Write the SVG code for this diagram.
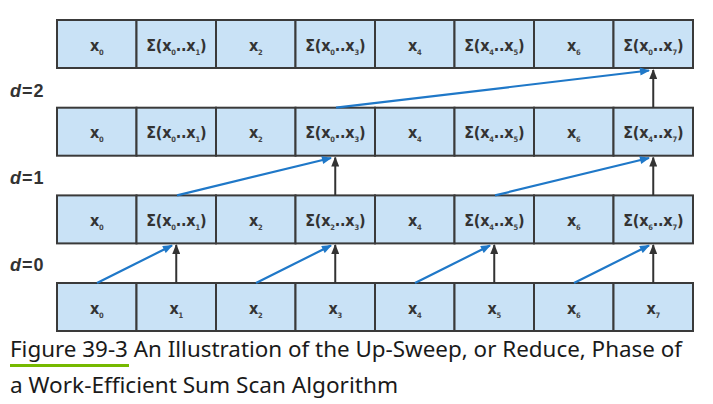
<svg xmlns="http://www.w3.org/2000/svg" width="713" height="404" viewBox="0 0 713 404">
<defs>
<style>
.cell{fill:#c9e2f6;stroke:#3a3a3a;stroke-width:2}
.t{font-family:"Liberation Sans Narrow","DejaVu Sans Condensed",sans-serif;font-weight:bold;font-size:16px;fill:#333;text-anchor:middle;letter-spacing:-0.2px}
.s{font-size:7.5px;fill:#444}
.d{font-family:"Liberation Sans",Arial,sans-serif;font-weight:bold;font-size:18px;fill:#333;letter-spacing:1px}
.cap{font-family:"Noto Sans","Open Sans",sans-serif;font-size:21px;fill:#1a1a1a}
.blue{stroke:#1f78c8;stroke-width:2.2;fill:none;marker-end:url(#hb)}
.blk{stroke:#333;stroke-width:2;fill:none;marker-end:url(#hk)}
</style>
<marker id="hb" viewBox="0 0 10 8" refX="9" refY="4" markerWidth="11" markerHeight="8" markerUnits="userSpaceOnUse" orient="auto"><path d="M0,0 L10,4 L0,8 z" fill="#1f78c8"/></marker>
<marker id="hk" viewBox="0 0 10 8" refX="9" refY="4" markerWidth="10" markerHeight="8" markerUnits="userSpaceOnUse" orient="auto"><path d="M0,0 L10,4 L0,8 z" fill="#333"/></marker>
</defs>
<rect width="713" height="404" fill="#fff"/>

<g id="row3">
<g id="r3c0"><rect class="cell" x="57" y="20" width="79.5" height="48"/><text class="t" x="96.75" y="50.5">x<tspan class="s" dy="4">0</tspan></text></g>
<g id="r3c1"><rect class="cell" x="136.5" y="20" width="79.5" height="48"/><text class="t" x="176.25" y="50.5">Σ(x<tspan class="s" dy="4">0</tspan><tspan dy="-4">..x</tspan><tspan class="s" dy="4">1</tspan><tspan dy="-4">)</tspan></text></g>
<g id="r3c2"><rect class="cell" x="216" y="20" width="79.5" height="48"/><text class="t" x="255.75" y="50.5">x<tspan class="s" dy="4">2</tspan></text></g>
<g id="r3c3"><rect class="cell" x="295.5" y="20" width="79.5" height="48"/><text class="t" x="335.25" y="50.5">Σ(x<tspan class="s" dy="4">0</tspan><tspan dy="-4">..x</tspan><tspan class="s" dy="4">3</tspan><tspan dy="-4">)</tspan></text></g>
<g id="r3c4"><rect class="cell" x="375" y="20" width="79.5" height="48"/><text class="t" x="414.75" y="50.5">x<tspan class="s" dy="4">4</tspan></text></g>
<g id="r3c5"><rect class="cell" x="454.5" y="20" width="79.5" height="48"/><text class="t" x="494.25" y="50.5">Σ(x<tspan class="s" dy="4">4</tspan><tspan dy="-4">..x</tspan><tspan class="s" dy="4">5</tspan><tspan dy="-4">)</tspan></text></g>
<g id="r3c6"><rect class="cell" x="534" y="20" width="79.5" height="48"/><text class="t" x="573.75" y="50.5">x<tspan class="s" dy="4">6</tspan></text></g>
<g id="r3c7"><rect class="cell" x="613.5" y="20" width="79.5" height="48"/><text class="t" x="653.25" y="50.5">Σ(x<tspan class="s" dy="4">0</tspan><tspan dy="-4">..x</tspan><tspan class="s" dy="4">7</tspan><tspan dy="-4">)</tspan></text></g>
</g>

<g id="row2">
<g id="r2c0"><rect class="cell" x="57" y="107.7" width="79.5" height="48"/><text class="t" x="96.75" y="138.2">x<tspan class="s" dy="4">0</tspan></text></g>
<g id="r2c1"><rect class="cell" x="136.5" y="107.7" width="79.5" height="48"/><text class="t" x="176.25" y="138.2">Σ(x<tspan class="s" dy="4">0</tspan><tspan dy="-4">..x</tspan><tspan class="s" dy="4">1</tspan><tspan dy="-4">)</tspan></text></g>
<g id="r2c2"><rect class="cell" x="216" y="107.7" width="79.5" height="48"/><text class="t" x="255.75" y="138.2">x<tspan class="s" dy="4">2</tspan></text></g>
<g id="r2c3"><rect class="cell" x="295.5" y="107.7" width="79.5" height="48"/><text class="t" x="335.25" y="138.2">Σ(x<tspan class="s" dy="4">0</tspan><tspan dy="-4">..x</tspan><tspan class="s" dy="4">3</tspan><tspan dy="-4">)</tspan></text></g>
<g id="r2c4"><rect class="cell" x="375" y="107.7" width="79.5" height="48"/><text class="t" x="414.75" y="138.2">x<tspan class="s" dy="4">4</tspan></text></g>
<g id="r2c5"><rect class="cell" x="454.5" y="107.7" width="79.5" height="48"/><text class="t" x="494.25" y="138.2">Σ(x<tspan class="s" dy="4">4</tspan><tspan dy="-4">..x</tspan><tspan class="s" dy="4">5</tspan><tspan dy="-4">)</tspan></text></g>
<g id="r2c6"><rect class="cell" x="534" y="107.7" width="79.5" height="48"/><text class="t" x="573.75" y="138.2">x<tspan class="s" dy="4">6</tspan></text></g>
<g id="r2c7"><rect class="cell" x="613.5" y="107.7" width="79.5" height="48"/><text class="t" x="653.25" y="138.2">Σ(x<tspan class="s" dy="4">4</tspan><tspan dy="-4">..x</tspan><tspan class="s" dy="4">7</tspan><tspan dy="-4">)</tspan></text></g>
</g>

<g id="row1">
<g id="r1c0"><rect class="cell" x="57" y="195.4" width="79.5" height="48"/><text class="t" x="96.75" y="225.9">x<tspan class="s" dy="4">0</tspan></text></g>
<g id="r1c1"><rect class="cell" x="136.5" y="195.4" width="79.5" height="48"/><text class="t" x="176.25" y="225.9">Σ(x<tspan class="s" dy="4">0</tspan><tspan dy="-4">..x</tspan><tspan class="s" dy="4">1</tspan><tspan dy="-4">)</tspan></text></g>
<g id="r1c2"><rect class="cell" x="216" y="195.4" width="79.5" height="48"/><text class="t" x="255.75" y="225.9">x<tspan class="s" dy="4">2</tspan></text></g>
<g id="r1c3"><rect class="cell" x="295.5" y="195.4" width="79.5" height="48"/><text class="t" x="335.25" y="225.9">Σ(x<tspan class="s" dy="4">2</tspan><tspan dy="-4">..x</tspan><tspan class="s" dy="4">3</tspan><tspan dy="-4">)</tspan></text></g>
<g id="r1c4"><rect class="cell" x="375" y="195.4" width="79.5" height="48"/><text class="t" x="414.75" y="225.9">x<tspan class="s" dy="4">4</tspan></text></g>
<g id="r1c5"><rect class="cell" x="454.5" y="195.4" width="79.5" height="48"/><text class="t" x="494.25" y="225.9">Σ(x<tspan class="s" dy="4">4</tspan><tspan dy="-4">..x</tspan><tspan class="s" dy="4">5</tspan><tspan dy="-4">)</tspan></text></g>
<g id="r1c6"><rect class="cell" x="534" y="195.4" width="79.5" height="48"/><text class="t" x="573.75" y="225.9">x<tspan class="s" dy="4">6</tspan></text></g>
<g id="r1c7"><rect class="cell" x="613.5" y="195.4" width="79.5" height="48"/><text class="t" x="653.25" y="225.9">Σ(x<tspan class="s" dy="4">6</tspan><tspan dy="-4">..x</tspan><tspan class="s" dy="4">7</tspan><tspan dy="-4">)</tspan></text></g>
</g>

<g id="row0">
<g id="r0c0"><rect class="cell" x="57" y="283" width="79.5" height="48"/><text class="t" x="96.75" y="313.5">x<tspan class="s" dy="4">0</tspan></text></g>
<g id="r0c1"><rect class="cell" x="136.5" y="283" width="79.5" height="48"/><text class="t" x="176.25" y="313.5">x<tspan class="s" dy="4">1</tspan></text></g>
<g id="r0c2"><rect class="cell" x="216" y="283" width="79.5" height="48"/><text class="t" x="255.75" y="313.5">x<tspan class="s" dy="4">2</tspan></text></g>
<g id="r0c3"><rect class="cell" x="295.5" y="283" width="79.5" height="48"/><text class="t" x="335.25" y="313.5">x<tspan class="s" dy="4">3</tspan></text></g>
<g id="r0c4"><rect class="cell" x="375" y="283" width="79.5" height="48"/><text class="t" x="414.75" y="313.5">x<tspan class="s" dy="4">4</tspan></text></g>
<g id="r0c5"><rect class="cell" x="454.5" y="283" width="79.5" height="48"/><text class="t" x="494.25" y="313.5">x<tspan class="s" dy="4">5</tspan></text></g>
<g id="r0c6"><rect class="cell" x="534" y="283" width="79.5" height="48"/><text class="t" x="573.75" y="313.5">x<tspan class="s" dy="4">6</tspan></text></g>
<g id="r0c7"><rect class="cell" x="613.5" y="283" width="79.5" height="48"/><text class="t" x="653.25" y="313.5">x<tspan class="s" dy="4">7</tspan></text></g>
</g>

<g id="labels">
<text class="d" x="10" y="97"><tspan font-style="italic">d</tspan>=2</text>
<text class="d" x="10" y="184"><tspan font-style="italic">d</tspan>=1</text>
<text class="d" x="10" y="271"><tspan font-style="italic">d</tspan>=0</text>
</g>

<g id="connectors">
<line class="blue" x1="97" y1="283" x2="172" y2="245.5"/>
<line class="blk" x1="176.25" y1="283" x2="176.25" y2="245"/>
<line class="blue" x1="256" y1="283" x2="331" y2="245.5"/>
<line class="blk" x1="335.25" y1="283" x2="335.25" y2="245"/>
<line class="blue" x1="415" y1="283" x2="490" y2="245.5"/>
<line class="blk" x1="494.25" y1="283" x2="494.25" y2="245"/>
<line class="blue" x1="574" y1="283" x2="649" y2="245.5"/>
<line class="blk" x1="653.25" y1="283" x2="653.25" y2="245"/>
<line class="blue" x1="177" y1="195.4" x2="331" y2="158"/>
<line class="blk" x1="335.25" y1="195.4" x2="335.25" y2="157.5"/>
<line class="blue" x1="495" y1="195.4" x2="649" y2="158"/>
<line class="blk" x1="653.25" y1="195.4" x2="653.25" y2="157.5"/>
<line class="blue" x1="336" y1="107.7" x2="649" y2="70.5"/>
<line class="blk" x1="653.25" y1="107.7" x2="653.25" y2="70"/>
</g>

<g id="caption">
<text class="cap" x="10" y="357" textLength="672" lengthAdjust="spacingAndGlyphs">Figure 39-3 An Illustration of the Up-Sweep, or Reduce, Phase of</text>
<text class="cap" x="10" y="393" textLength="388" lengthAdjust="spacingAndGlyphs">a Work-Efficient Sum Scan Algorithm</text>
<rect x="10" y="364" width="119" height="3" fill="#76b900"/>
</g>
</svg>
